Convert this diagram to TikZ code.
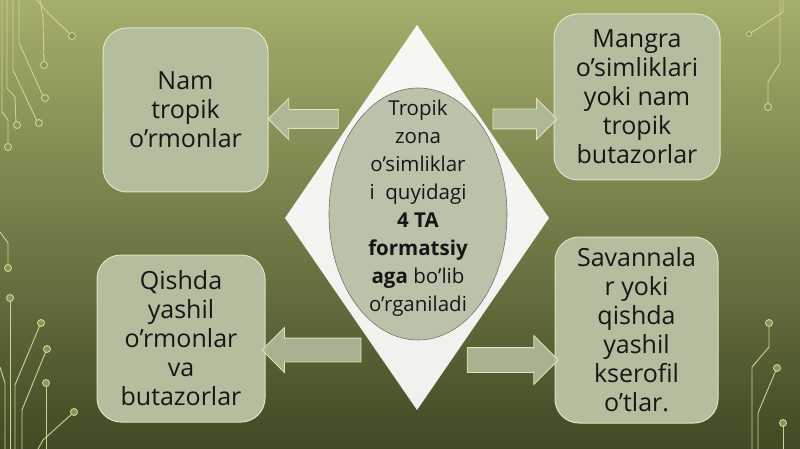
\documentclass[tikz,border=0pt]{standalone}
\usepackage{fontspec}
\setmainfont{Open Sans}
\usetikzlibrary{shapes.geometric, shapes.arrows}

\definecolor{bgtop}{RGB}{166,174,108}
\definecolor{bgmid}{RGB}{138,148,84}
\definecolor{bgbot}{RGB}{64,74,36}
\definecolor{sage}{RGB}{178,190,158}
\definecolor{hubfill}{RGB}{186,194,170}
\definecolor{rim}{RGB}{222,228,190}
\definecolor{trace}{RGB}{205,212,150}
\definecolor{ink}{RGB}{22,22,22}

\tikzset{
  leaf/.style = {draw=rim, line width=1pt, fill=sage, rounded corners=24pt, align=center,
                 text=ink, font=\fontsize{25}{29}\selectfont, inner sep=0pt},
  fatarrow/.style = {single arrow, draw=rim, line width=0.8pt, fill=sage, fill opacity=0.88,
                     inner xsep=0pt},
  wire/.style = {draw=trace, line width=0.9pt},
  pad/.style = {draw=trace, line width=0.9pt, fill=bgmid},
}

\begin{document}
\begin{tikzpicture}[x=1pt, y=-1pt]
 \shade[top color=bgtop, middle color=bgmid, bottom color=bgbot] (0,0) rectangle (800,449);
 \useasboundingbox (0,0) rectangle (800,449);

 % circuit traces, left top
 \draw[wire] (37,0) -- (48,13) -- (70,34);
 \draw[wire] (40,0) -- (43,18) -- (44,63);
 \draw[wire] (19,0) -- (19,43) -- (43,96);
 \draw[wire] (13,0) -- (13,70) -- (37,121);
 \draw[wire] (7,0) -- (7,88) -- (15,97) -- (16,123);
 \draw[wire] (2,0) -- (2,112) -- (8,120) -- (8,145);
 \draw[pad] (72,36) circle (3.5);
 \draw[pad] (44,65) circle (3.5);
 \draw[pad] (45,98) circle (3.5);
 \draw[pad] (39,123) circle (3.5);
 \draw[pad] (17,125) circle (3.5);
 \draw[pad] (8,147) circle (3.5);
 % circuit traces, left bottom
 \draw[wire] (0,232) -- (8,243) -- (8,266);
 \draw[wire] (10,300) -- (10,449);
 \draw[wire] (40,325) -- (15,385) -- (15,449);
 \draw[wire] (46,351) -- (22,410) -- (22,449);
 \draw[wire] (46,385) -- (46,449);
 \draw[wire] (73,413) -- (43,440) -- (38,449);
 \draw[wire] (0,367) -- (5,383) -- (5,449);
 \draw[pad] (8,268) circle (3.5);
 \draw[pad] (10,298) circle (3.5);
 \draw[pad] (41,323) circle (3.5);
 \draw[pad] (47,349) circle (3.5);
 \draw[pad] (46,383) circle (3.5);
 \draw[pad] (74,412) circle (3.5);
 % circuit traces, right
 \draw[wire] (780,0) -- (780,63) -- (768,82) -- (768,105);
 \draw[wire] (783,0) -- (783,12) -- (751,33);
 \draw[wire] (769,325) -- (769,347) -- (752,367) -- (752,449);
 \draw[wire] (776,370) -- (758,413) -- (758,449);
 \draw[wire] (783,425) -- (783,449);
 \draw[pad] (768,107) circle (3.5);
 \draw[pad] (749,34) circle (2.5);
 \draw[pad] (769,323) circle (3.5);
 \draw[pad] (777,368) circle (3.5);
 \draw[pad] (783,423) circle (3.5);

 % centre
 \fill[white, opacity=0.92] (417,25) -- (549,218) -- (417,410) -- (285,218) -- cycle;
 \node[ellipse, draw=black!55, line width=0.6pt, fill=hubfill, minimum width=178pt,
       minimum height=252pt, inner sep=0pt] (hub) at (418,214) {};
 \node[align=center, text=ink, font=\fontsize{20.5}{28}\selectfont] (hubtext) at (418,208)
   {Tropik\\ zona\\ o’simliklar\\ i\ \ quyidagi\\ \textbf{4 TA}\\ \textbf{formatsiy}\\
    \textbf{aga} bo’lib\\ o’rganiladi};

 % four formations
 \node[leaf, minimum width=165pt, minimum height=164pt] (nam) at (185.5,110)
   {Nam\\ tropik\\ o’rmonlar};
 \node[leaf, minimum width=166pt, minimum height=166pt] (mangra) at (637,97)
   {Mangra\\ o’simliklari\\ yoki nam\\ tropik\\ butazorlar};
 \node[leaf, minimum width=168pt, minimum height=167pt] (qishda) at (181,338.5)
   {Qishda\\ yashil\\ o’rmonlar\\ va\\ butazorlar};
 \node[leaf, minimum width=163pt, minimum height=186pt] (savanna) at (636.5,330)
   {Savannala\\ r yoki\\ qishda\\ yashil\\ kserofil\\ o’tlar.};

 % block arrows
 \node[fatarrow, shape border rotate=180, minimum height=70pt, inner ysep=9pt,
       single arrow head extend=11pt] (toleft1) at (308,119) {};
 \node[fatarrow, minimum height=64pt, inner ysep=9.5pt,
       single arrow head extend=10.5pt] (toright1) at (520,119) {};
 \node[fatarrow, shape border rotate=180, minimum height=99pt, inner ysep=11.5pt,
       single arrow head extend=10.5pt] (toleft2) at (317.5,350) {};
 \node[fatarrow, minimum height=91pt, inner ysep=12pt,
       single arrow head extend=12pt] (toright2) at (506.5,360) {};
\end{tikzpicture}
\end{document}
